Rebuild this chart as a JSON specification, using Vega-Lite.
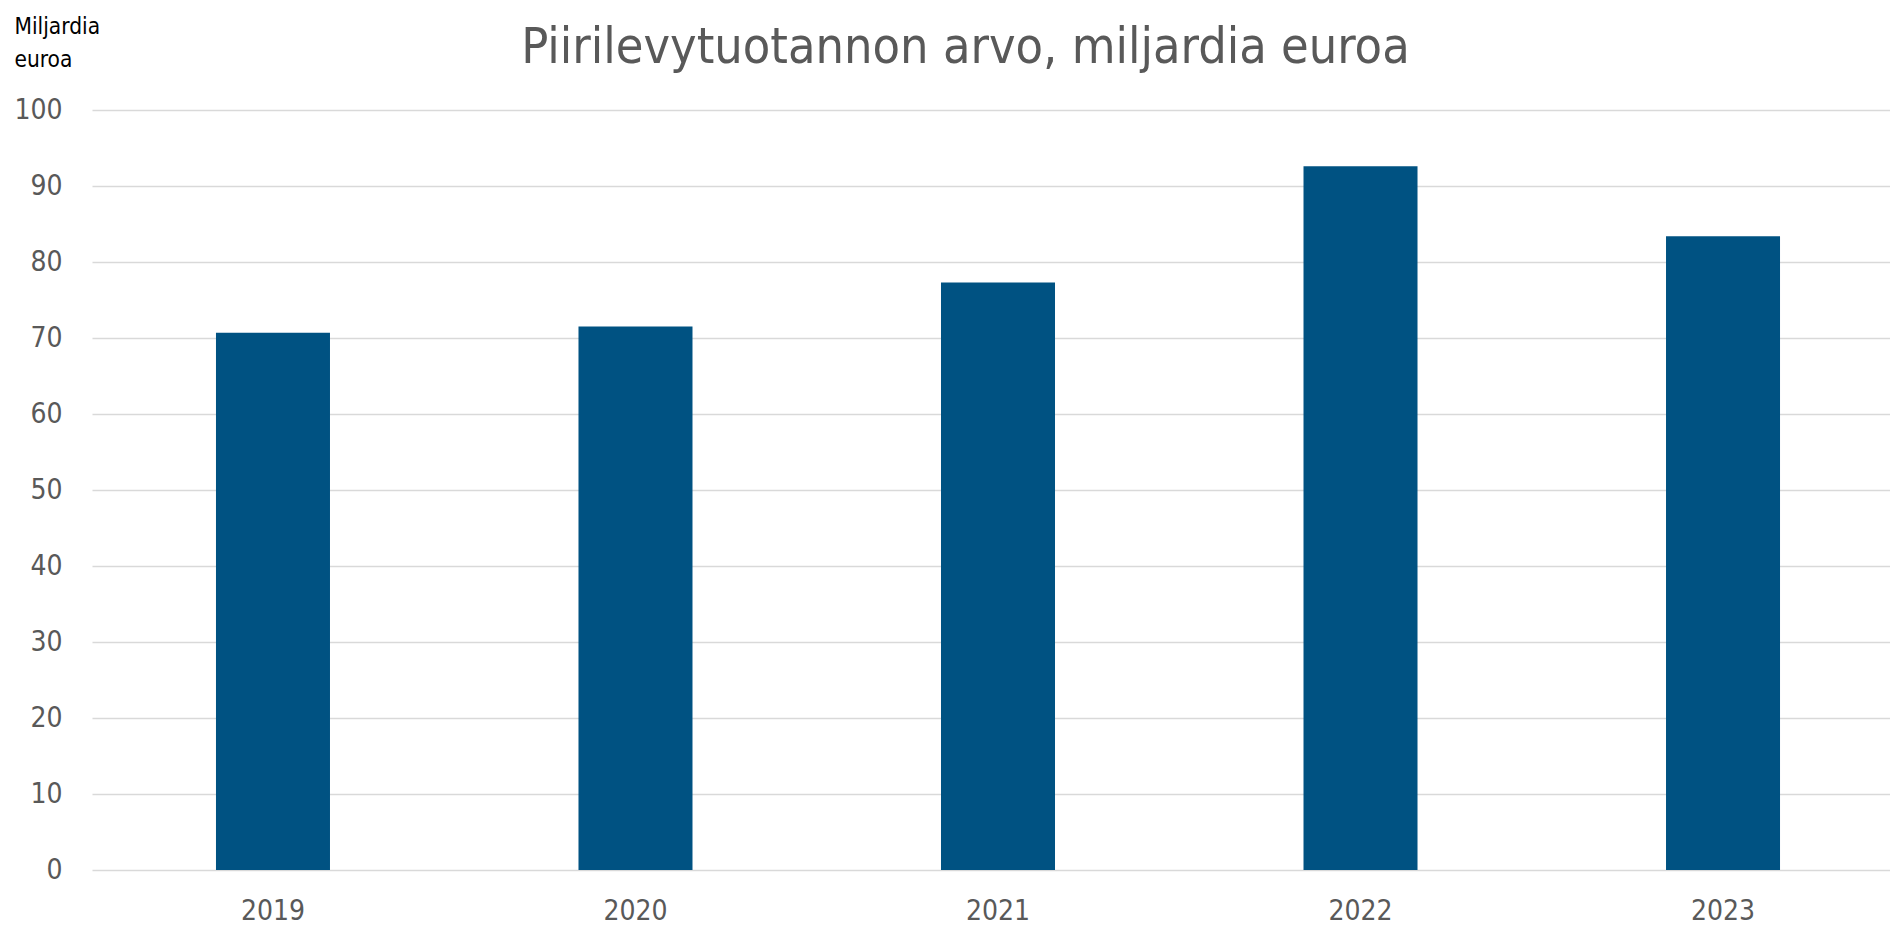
{
  "$schema": "https://vega.github.io/schema/vega-lite/v6.json",
  "autosize": {"type": "none"},
  "padding": {"left": 92, "top": 110, "right": 0, "bottom": 55},
  "width": 1798,
  "height": 760,
  "background": "white",
  "data": {
    "values": [
      {"vuosi": "2019", "arvo": 70.7},
      {"vuosi": "2020", "arvo": 71.5},
      {"vuosi": "2021", "arvo": 77.3},
      {"vuosi": "2022", "arvo": 92.6},
      {"vuosi": "2023", "arvo": 83.4}
    ]
  },
  "mark": {"type": "bar", "color": "#005282"},
  "encoding": {
    "x": {
      "field": "vuosi",
      "type": "ordinal",
      "scale": {"range": [0, 1812], "paddingInner": 0.6855, "paddingOuter": 0.342},
      "axis": {
        "title": "Piirilevytuotannon arvo, miljardia euroa",
        "titleX": 873,
        "titleY": -808,
        "titleAlign": "center",
        "titleBaseline": "alphabetic",
        "titleFont": "'DejaVu Sans Condensed', 'Liberation Sans', sans-serif",
        "titleFontSize": 50,
        "titleFontWeight": "normal",
        "titleColor": "#595959",
        "labelAngle": 0,
        "ticks": false,
        "domain": false,
        "labelFont": "'DejaVu Sans Condensed', 'Liberation Sans', sans-serif",
        "labelFontSize": 28,
        "labelColor": "#595959",
        "labelPadding": 27,
        "labelBaseline": "top"
      }
    },
    "y": {
      "field": "arvo",
      "type": "quantitative",
      "scale": {"domain": [0, 100], "nice": false, "zero": true},
      "axis": {
        "values": [0, 10, 20, 30, 40, 50, 60, 70, 80, 90, 100],
        "title": ["Miljardia", "euroa"],
        "titleAngle": 0,
        "titleX": -78,
        "titleY": -77,
        "titleAlign": "left",
        "titleBaseline": "alphabetic",
        "titleFont": "'DejaVu Sans Condensed', 'Liberation Sans', sans-serif",
        "titleFontSize": 22.5,
        "titleFontWeight": "normal",
        "titleColor": "#000000",
        "titleLineHeight": 33,
        "ticks": false,
        "domain": false,
        "grid": true,
        "gridColor": "#d9d9d9",
        "gridWidth": 1.6,
        "labelFont": "'DejaVu Sans Condensed', 'Liberation Sans', sans-serif",
        "labelFontSize": 28,
        "labelColor": "#595959",
        "labelPadding": 30,
        "labelBaseline": "middle"
      }
    }
  },
  "config": {"view": {"stroke": null}}
}
